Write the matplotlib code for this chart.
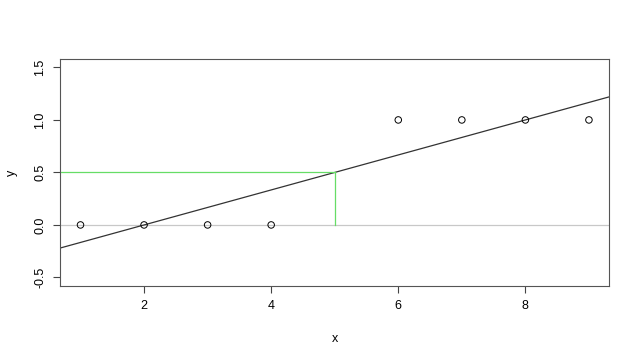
import numpy as np
import matplotlib.pyplot as plt

plt.rcParams['font.family'] = ['Liberation Sans', 'DejaVu Sans']

x = [1, 2, 3, 4, 6, 7, 8, 9]
y = [0, 0, 0, 0, 1, 1, 1, 1]
x0 = 5  # punto de corte en y = 0.5
y0 = 0.5

# recta de minimos cuadrados
b, a = np.polyfit(x, y, 1)

fig = plt.figure(figsize=(6.4, 3.6), dpi=100)
ax = fig.add_axes([0.094, 0.206, 0.858, 0.630])

ax.axhline(0, color='#c8c8c8', lw=0.9, zorder=1)
xl = (0.68, 9.32)
ax.plot(xl, [a + b*xl[0], a + b*xl[1]], color='#333333', lw=0.9, zorder=2)
ax.plot([xl[0], x0], [y0, y0], color='#66dd66', lw=0.9, zorder=2)
ax.plot([x0, x0], [0, y0], color='#66dd66', lw=0.9, zorder=2)
ax.scatter(x, y, s=22, facecolors='none', edgecolors='black', linewidths=0.7, zorder=3)

ax.set_xlim(xl)
ax.set_ylim(-0.58, 1.58)
ax.set_xticks([2, 4, 6, 8])
ax.set_yticks([-0.5, 0.0, 0.5, 1.0, 1.5])
ax.set_yticklabels(['-0.5', '0.0', '0.5', '1.0', '1.5'], rotation=90, va='center')
ax.tick_params(direction='out', length=5, width=0.8, labelsize=9, color='#444444', pad=5)
for s in ax.spines.values():
    s.set_linewidth(0.8)
    s.set_color('#555555')

ax.set_xlabel('x', fontsize=9, labelpad=15)
ax.set_ylabel('y', fontsize=9, labelpad=12)

fig.savefig('out.png', dpi=100)
